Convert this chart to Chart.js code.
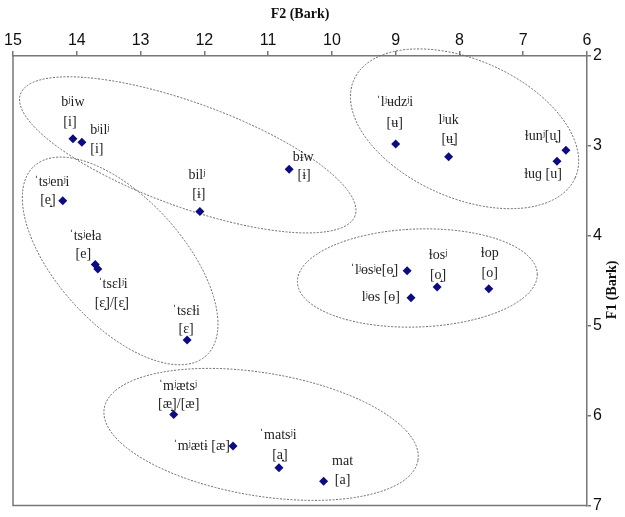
<!DOCTYPE html>
<html>
<head>
<meta charset="utf-8">
<script src="https://cdn.jsdelivr.net/npm/chart.js@4"></script>
<style>
  html, body { margin: 0; padding: 0; background: #fff; }
  canvas { display: block; }
</style>
</head>
<body>
<canvas id="grafico" width="625" height="517"></canvas>
<script>
// valores (Bark)
const palabras = [
  "bʲiw", "bʲilʲ", "bilʲ", "bɨw", "ˈtsʲenʲi", "ˈtsʲeɫa", "ˈtsɛlʲi", "ˈtsɛɫi",
  "ˈlʲʉdzʲi", "lʲuk", "ɫunʲ[u̟]", "ɫuɡ [u]", "ˈlʲɵsʲe[ɵ̝]", "lʲɵs [ɵ]", "ɫosʲ", "ɫop",
  "ˈmʲætsʲ", "ˈmʲætɨ [æ]", "ˈmatsʲi", "mat"
];
const vocales = [
  "[i]", "[i]", "[ɨ]", "[ɨ]", "[e̝]", "[e]", "[ɛ̝]/[ɛ̝]", "[ɛ]",
  "[ʉ]", "[ʉ̠]", "", "", "", "", "[o̝]", "[o]",
  "[æ̝]/[æ]", "", "[a̟]", "[a]"
];
const f2 = [14.06, 13.92, 12.07, 10.67, 14.22, 13.71, 13.67, 12.27,
            9.00, 8.17, 6.33, 6.47, 8.82, 8.76, 8.35, 7.54,
            12.48, 11.55, 10.83, 10.13];
const f1 = [2.92, 2.96, 3.73, 3.26, 3.61, 4.32, 4.37, 5.16,
            2.98, 3.12, 3.05, 3.17, 4.39, 4.69, 4.57, 4.59,
            5.99, 6.34, 6.58, 6.73];
const ticksF2 = [15, 14, 13, 12, 11, 10, 9, 8, 7, 6];
const ticksF1 = [2, 3, 4, 5, 6, 7];

// posicion de las etiquetas respecto al punto (px): [dx1, dy1, dx2, dy2, alineacion]
const posEtiquetas = [
  [0, -36, -3, -16, "center"], [18, -12, 15, 7, "center"], [-3, -36, -1, -17, "center"],
  [14, -12, 15, 6, "center"], [-11, -18, -15, 0, "center"], [-10, -28, -12, -10, "center"],
  [15, 15, 14, 34, "center"], [-1, -29, -1, -11, "center"], [-1, -42, -1, -21, "center"],
  [0, -36, 1, -17, "center"], [-23, -14, 0, 0, "center"], [-14, 13, 0, 0, "center"],
  [-9, 0, 0, 0, "right"], [-11, 0, 0, 0, "right"], [1, -32, 1, -12, "center"],
  [1, -35, 1, -15, "center"], [4, -28, 5, -10, "center"], [-3, 0, 0, 0, "right"],
  [-1, -32, 1, -12, "center"], [19, -20, 19, -1, "center"]
];

// elipses punteadas: centro en Bark, semiejes en px, angulo en grados
const elipses = [
  { f2: 12.26, f1: 3.10, a: 178, b: 52, ang: 20 },
  { f2: 13.32, f1: 4.28, a: 128, b: 63, ang: 47.8 },
  { f2: 7.92, f1: 2.81, a: 121, b: 69, ang: 23.9 },
  { f2: 8.66, f1: 4.47, a: 120, b: 49, ang: -2 },
  { f2: 11.11, f1: 6.21, a: 159, b: 61.5, ang: 9.4 }
];

const puntos = f2.map((v, i) => ({ x: v, y: f1[i] }));

const pluginDibujo = {
  id: "dibujo",
  beforeDatasetsDraw(chart) {
    const ctx = chart.ctx;
    const sx = chart.scales.x;
    const sy = chart.scales.y;
    const area = chart.chartArea;
    ctx.save();
    // marco izquierdo e inferior
    ctx.strokeStyle = "#777";
    ctx.lineWidth = 1.5;
    ctx.beginPath();
    ctx.moveTo(area.left, area.top);
    ctx.lineTo(area.left, area.bottom);
    ctx.lineTo(area.right, area.bottom);
    ctx.stroke();
    // elipses
    ctx.strokeStyle = "#666";
    ctx.lineWidth = 1;
    ctx.setLineDash([2, 1.5]);
    elipses.forEach((e) => {
      ctx.beginPath();
      ctx.ellipse(sx.getPixelForValue(e.f2), sy.getPixelForValue(e.f1),
        e.a, e.b, e.ang * Math.PI / 180, 0, 2 * Math.PI);
      ctx.stroke();
    });
    ctx.restore();
  },
  afterDatasetsDraw(chart) {
    const ctx = chart.ctx;
    const sx = chart.scales.x;
    const sy = chart.scales.y;
    ctx.save();
    ctx.font = "14px 'Liberation Serif', 'DejaVu Serif', serif";
    ctx.fillStyle = "#222";
    ctx.textBaseline = "middle";
    palabras.forEach((p, i) => {
      const px = sx.getPixelForValue(f2[i]);
      const py = sy.getPixelForValue(f1[i]);
      const o = posEtiquetas[i];
      ctx.textAlign = o[4];
      ctx.fillText(p, px + o[0], py + o[1]);
      if (vocales[i]) {
        ctx.textAlign = o[1] === -18 ? "right" : "center";
        ctx.fillText(vocales[i], px + o[2] + (o[1] === -18 ? 8 : 0), py + o[3]);
      }
    });
    // titulo del eje F1
    ctx.font = "bold 14px 'Liberation Serif', serif";
    ctx.fillStyle = "#111";
    ctx.textAlign = "center";
    ctx.translate(612, 290);
    ctx.rotate(-Math.PI / 2);
    ctx.fillText("F1 (Bark)", 0, 0);
    ctx.restore();
  }
};

const ctx = document.getElementById("grafico").getContext("2d");

new Chart(ctx, {
  type: "scatter",
  data: {
    datasets: [{
      label: "vocales",
      data: puntos,
      pointStyle: "rectRot",
      pointRadius: 4.5,
      pointHoverRadius: 4.5,
      backgroundColor: "#0c0c82",
      borderWidth: 0
    }]
  },
  options: {
    responsive: false,
    devicePixelRatio: 1,
    animation: false,
    layout: { padding: { left: 13, bottom: 5, top: 0, right: 0 } },
    plugins: { legend: { display: false }, tooltip: { enabled: false } },
    scales: {
      x: {
        type: "linear",
        position: "top",
        min: 6,
        max: 15,
        reverse: true,
        afterFit: (s) => { s.height = 56; },
        afterBuildTicks: (s) => { s.ticks = ticksF2.map((v) => ({ value: v })); },
        grid: { drawOnChartArea: false, color: "#777", tickLength: 5, lineWidth: 1.5 },
        border: { color: "#777", width: 1.5 },
        ticks: {
          color: "#111",
          padding: 1,
          font: { family: "'Liberation Sans', Arial, sans-serif", size: 16 }
        },
        title: {
          display: true,
          text: "F2 (Bark)",
          color: "#111",
          padding: { top: 6, bottom: 0 },
          font: { family: "'Liberation Serif', serif", size: 14, weight: "bold" }
        }
      },
      y: {
        type: "linear",
        position: "right",
        min: 2,
        max: 7,
        reverse: true,
        afterFit: (s) => { s.width = 38; },
        afterBuildTicks: (s) => { s.ticks = ticksF1.map((v) => ({ value: v })); },
        grid: { drawOnChartArea: false, color: "#777", tickLength: 4, lineWidth: 1.5 },
        border: { color: "#777", width: 1.5 },
        ticks: {
          color: "#111",
          padding: 2,
          font: { family: "'Liberation Sans', Arial, sans-serif", size: 16 }
        }
      }
    }
  },
  plugins: [pluginDibujo]
});
</script>
</body>
</html>
